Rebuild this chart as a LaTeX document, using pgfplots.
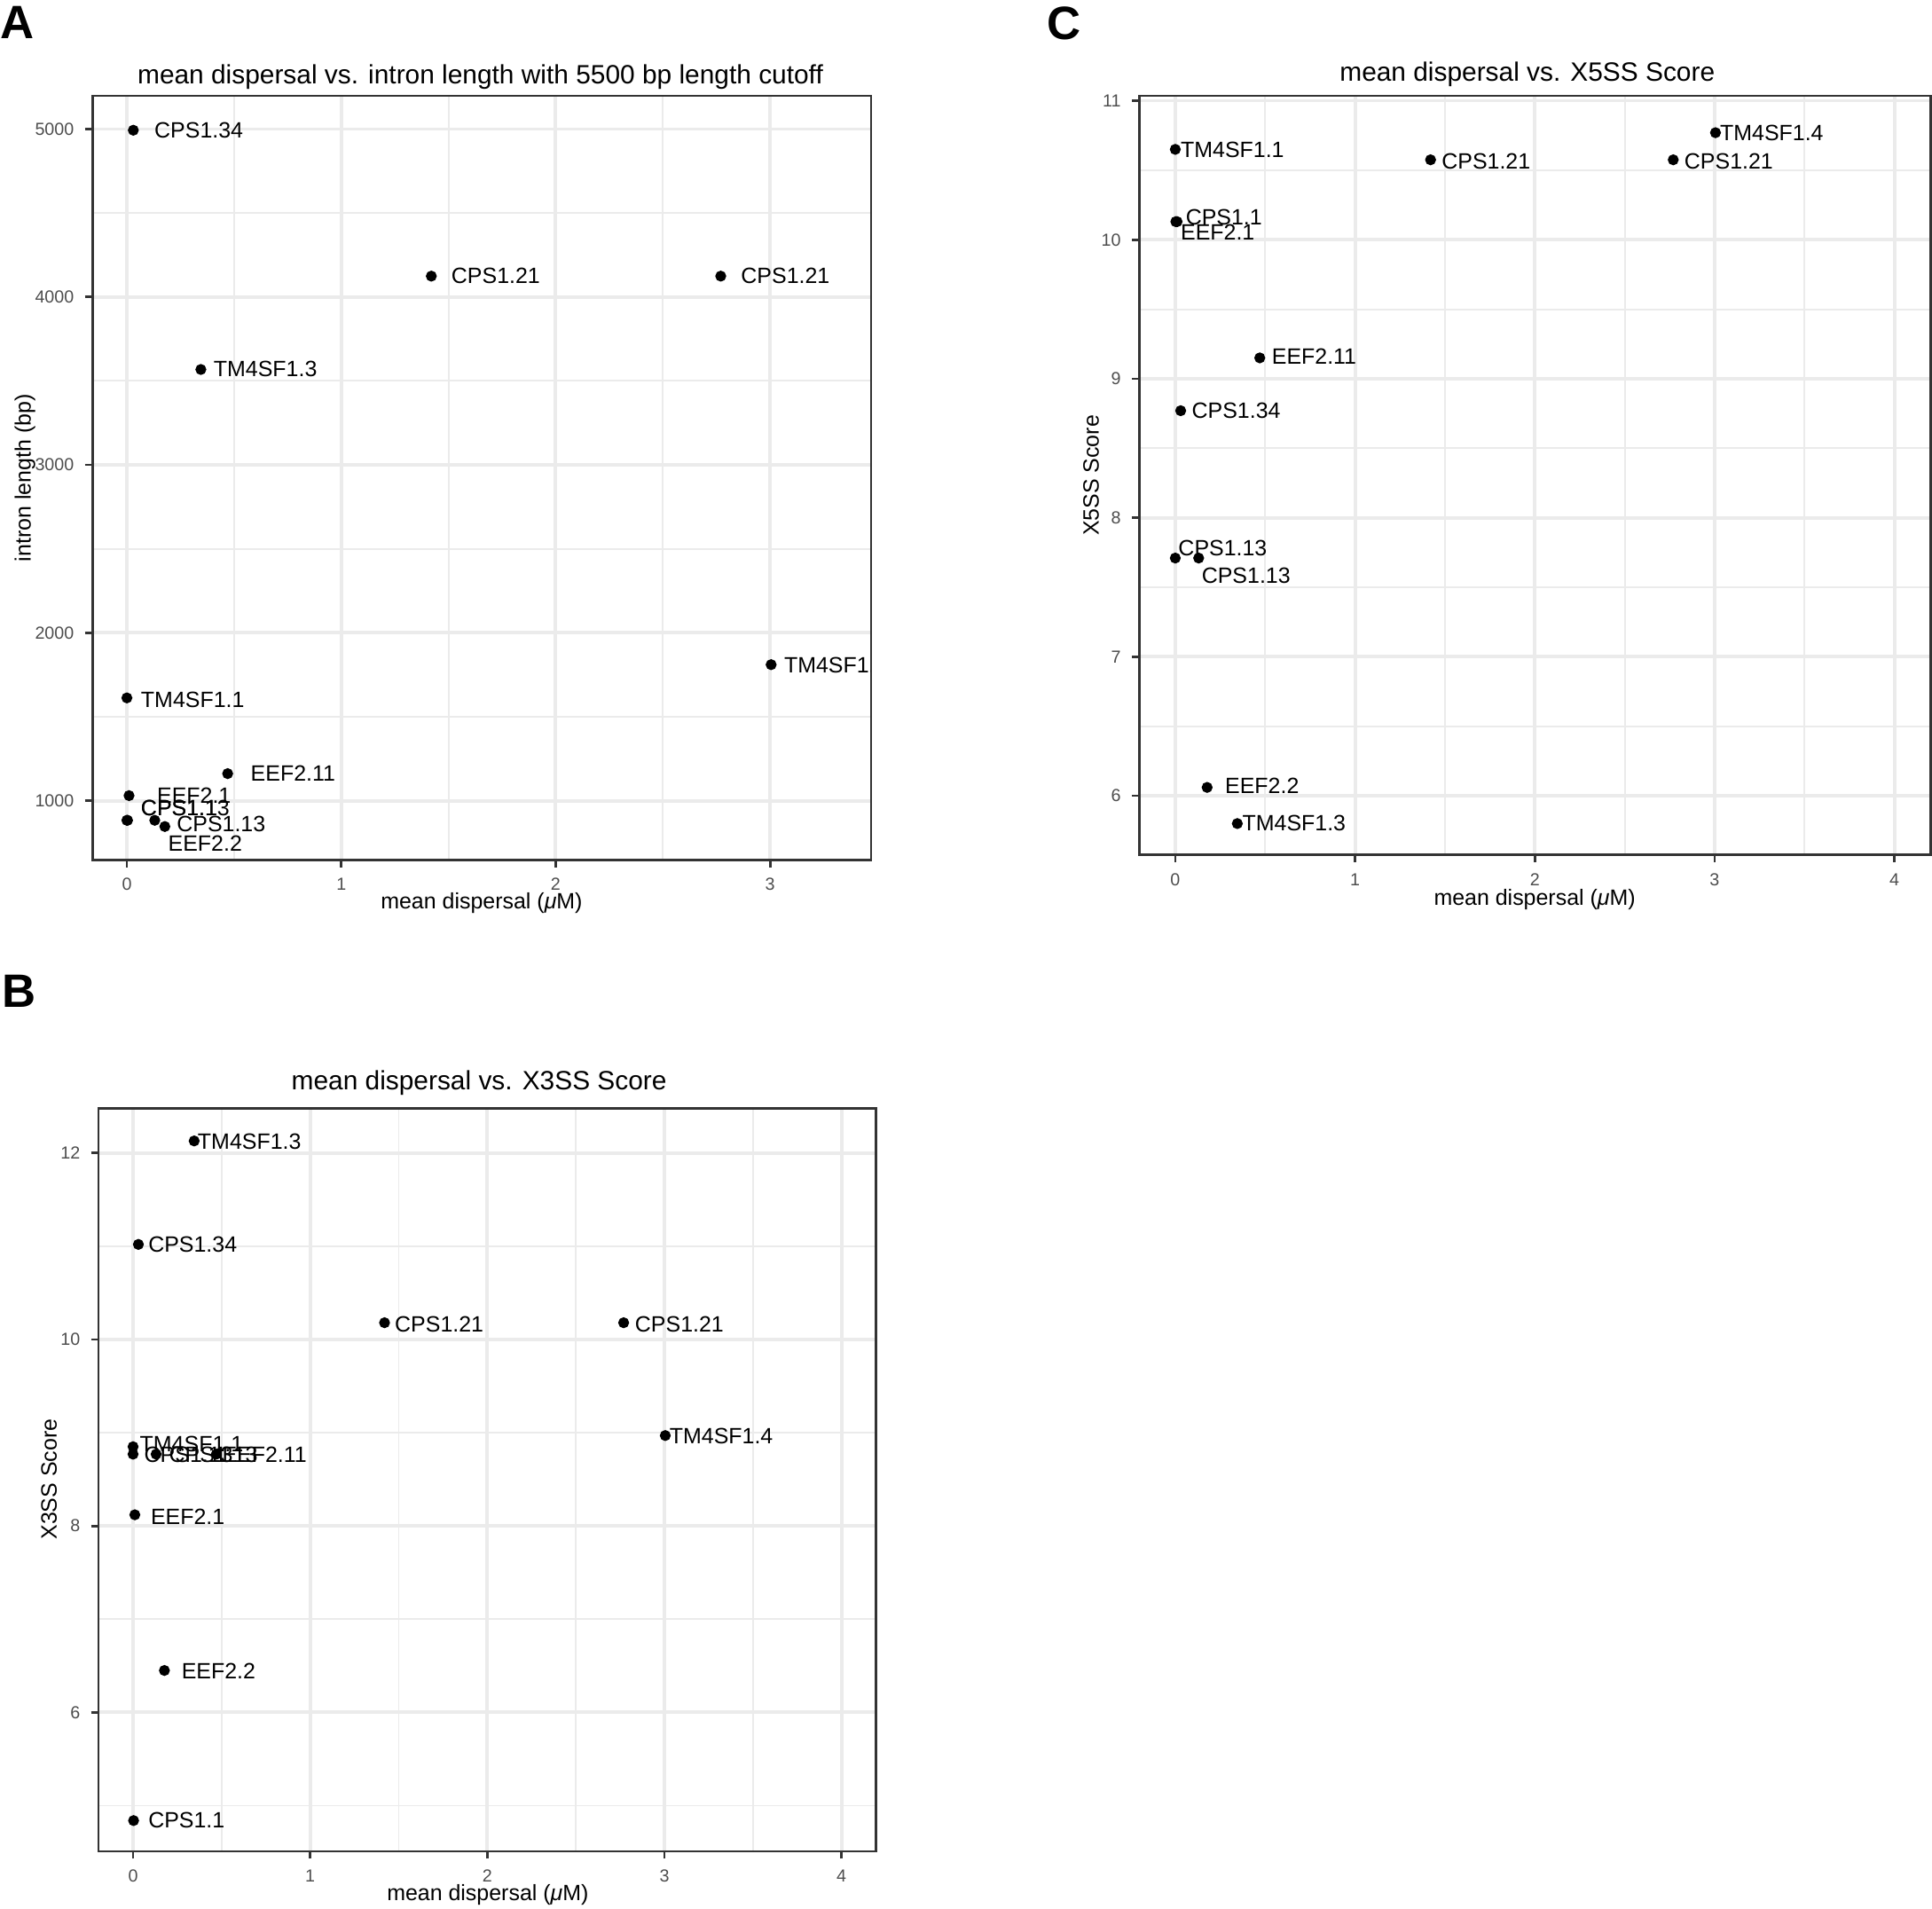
\documentclass[border=0pt]{standalone}
\usepackage{fontspec}
\setmainfont{Liberation Sans}
\usepackage{pgfplots}
\pgfplotsset{compat=1.18}

\definecolor{gridgray}{HTML}{EBEBEB}
\definecolor{framegray}{HTML}{333333}
\definecolor{tickgray}{HTML}{4D4D4D}

\newcommand{\labfont}{\fontsize{7.1}{8.5}\selectfont}
\newcommand{\titlefont}{\fontsize{8.5}{10}\selectfont}
\newcommand{\tickfont}{\fontsize{5.6}{6.5}\selectfont}
\newcommand{\panelfont}{\fontsize{15}{17}\selectfont\bfseries}

\pgfplotsset{
  ggpanel/.style={
    scale only axis,
    axis background/.style={fill=white},
    axis line style={draw=framegray, line width=0.8pt},
    tick align=outside,
    xtick pos=left, ytick pos=left,
    major tick length=2.4pt,
    minor tick length=0pt,
    tick style={draw=framegray, line width=0.8pt},
    grid=both,
    major grid style={draw=gridgray, line width=1.1pt},
    minor grid style={draw=gridgray, line width=0.55pt},
    ticklabel style={font=\tickfont, text=tickgray},
    /pgf/number format/assume math mode=true,
    /pgf/number format/set thousands separator={},
    scaled ticks=false,
  },
  dots/.style={only marks, mark=*, mark size=1.55pt, color=black},
}
\tikzset{lab/.style={anchor=west, inner sep=0pt, font=\labfont}}

\begin{document}
\begin{tikzpicture}
\useasboundingbox (0,0) rectangle (21.78,-21.516);

\begin{scope}[x=0.01389cm, y=-0.01389cm]
  \coordinate (Apos) at (75,698);
  \coordinate (Bpos) at (80,1503);
  \coordinate (Cpos) at (925,694);

  % panel letters
  \node[anchor=north west, inner sep=0pt, font=\panelfont] at (0,5) {A};
  \node[anchor=north west, inner sep=0pt, font=\panelfont] at (850,5) {C};
  \node[anchor=north west, inner sep=0pt, font=\panelfont] at (1,791) {B};

  % titles
  \node[anchor=base, inner sep=0pt, font=\titlefont] at (390,68) {mean dispersal vs. intron length with 5500 bp length cutoff};
  \node[anchor=base, inner sep=0pt, font=\titlefont] at (1240,66) {mean dispersal vs. X5SS Score};
  \node[anchor=base, inner sep=0pt, font=\titlefont] at (389,885) {mean dispersal vs. X3SS Score};

  % axis titles
  \node[anchor=base, inner sep=0pt, font=\labfont] at (391,738) {mean dispersal ({\itshape μ}M)};
  \node[anchor=base, inner sep=0pt, font=\labfont] at (1246,735) {mean dispersal ({\itshape μ}M)};
  \node[anchor=base, inner sep=0pt, font=\labfont] at (396,1543) {mean dispersal ({\itshape μ}M)};
  \node[anchor=base, inner sep=0pt, font=\labfont, rotate=90] at (25,388) {intron length (bp)};
  \node[anchor=base, inner sep=0pt, font=\labfont, rotate=90] at (892,386) {X5SS Score};
  \node[anchor=base, inner sep=0pt, font=\labfont, rotate=90] at (46,1201) {X3SS Score};
\end{scope}

% ---------------- A: intron length ----------------
\begin{axis}[ggpanel, at={(Apos)}, anchor=south west,
    width=8.778cm, height=8.612cm,
    xmin=-0.161, xmax=3.471, ymin=648, ymax=5198,
    xtick={0,1,2,3}, minor xtick={0.5,1.5,2.5},
    ytick={1000,2000,3000,4000,5000}, minor ytick={1500,2500,3500,4500}]
\addplot[dots] coordinates {
  (0.003,883) (0,883) (0.13,883) (1.42,4124) (2.77,4124) (0.03,4993)
  (0.01,1030) (0.47,1161) (0.177,846) (0,1612) (0.345,3568) (3.005,1810)
};
\node[lab] at (axis cs:0.126,4993) {CPS1.34};
\node[lab] at (axis cs:1.511,4128) {CPS1.21};
\node[lab] at (axis cs:2.862,4128) {CPS1.21};
\node[lab] at (axis cs:0.402,3571) {TM4SF1.3};
\node[lab] at (axis cs:3.063,1806) {TM4SF1.4};
\node[lab] at (axis cs:0.063,1600) {TM4SF1.1};
\node[lab] at (axis cs:0.575,1161) {EEF2.11};
\node[lab] at (axis cs:0.138,1029) {EEF2.1};
\node[lab] at (axis cs:0.063,956) {CPS1.1};
\node[lab] at (axis cs:0.063,956) {CPS1.13};
\node[lab] at (axis cs:0.23,861) {CPS1.13};
\node[lab] at (axis cs:0.19,744) {EEF2.2};
\end{axis}

% ---------------- C: X5SS score ----------------
\begin{axis}[ggpanel, at={(Cpos)}, anchor=south west,
    width=8.917cm, height=8.556cm,
    xmin=-0.2, xmax=4.2, ymin=5.575, ymax=11.035,
    xtick={0,1,2,3,4}, minor xtick={0.5,1.5,2.5,3.5},
    ytick={6,7,8,9,10,11}, minor ytick={6.5,7.5,8.5,9.5,10.5}]
\addplot[dots] coordinates {
  (0.003,10.13) (0,7.71) (0.13,7.71) (1.42,10.575) (2.77,10.575) (0.03,8.77)
  (0.01,10.13) (0.47,9.15) (0.177,6.06) (0,10.65) (0.345,5.80) (3.005,10.77)
};
\node[lab] at (axis cs:0.027,10.646) {TM4SF1.1};
\node[lab] at (axis cs:1.479,10.566) {CPS1.21};
\node[lab] at (axis cs:2.829,10.566) {CPS1.21};
\node[lab] at (axis cs:3.027,10.77) {TM4SF1.4};
\node[lab] at (axis cs:0.055,10.159) {CPS1.1};
\node[lab] at (axis cs:0.027,10.053) {EEF2.1};
\node[lab] at (axis cs:0.534,9.159) {EEF2.11};
\node[lab] at (axis cs:0.089,8.77) {CPS1.34};
\node[lab] at (axis cs:0.014,7.779) {CPS1.13};
\node[lab] at (axis cs:0.144,7.584) {CPS1.13};
\node[lab] at (axis cs:0.274,6.071) {EEF2.2};
\node[lab] at (axis cs:0.37,5.805) {TM4SF1.3};
\end{axis}

% ---------------- B: X3SS score ----------------
\begin{axis}[ggpanel, at={(Bpos)}, anchor=south west,
    width=8.765cm, height=8.376cm,
    xmin=-0.195, xmax=4.195, ymin=4.51, ymax=12.48,
    xtick={0,1,2,3,4}, minor xtick={0.5,1.5,2.5,3.5},
    ytick={6,8,10,12}, minor ytick={5,7,9,11}]
\addplot[dots] coordinates {
  (0.003,4.84) (0,8.77) (0.13,8.77) (1.42,10.18) (2.77,10.18) (0.03,11.02)
  (0.01,8.12) (0.47,8.77) (0.177,6.45) (0,8.85) (0.345,12.13) (3.005,8.97)
};
\node[lab] at (axis cs:0.362,12.12) {TM4SF1.3};
\node[lab] at (axis cs:0.083,11.02) {CPS1.34};
\node[lab] at (axis cs:1.475,10.16) {CPS1.21};
\node[lab] at (axis cs:2.831,10.16) {CPS1.21};
\node[lab] at (axis cs:3.026,8.96) {TM4SF1.4};
\node[lab] at (axis cs:0.035,8.88) {TM4SF1.1};
\node[lab] at (axis cs:0.06,8.76) {CPS1.13};
\node[lab] at (axis cs:0.20,8.76) {CPS1.13};
\node[lab] at (axis cs:0.50,8.77) {EEF2.11};
\node[lab] at (axis cs:0.097,8.10) {EEF2.1};
\node[lab] at (axis cs:0.271,6.44) {EEF2.2};
\node[lab] at (axis cs:0.083,4.84) {CPS1.1};
\end{axis}
\end{tikzpicture}
\end{document}
